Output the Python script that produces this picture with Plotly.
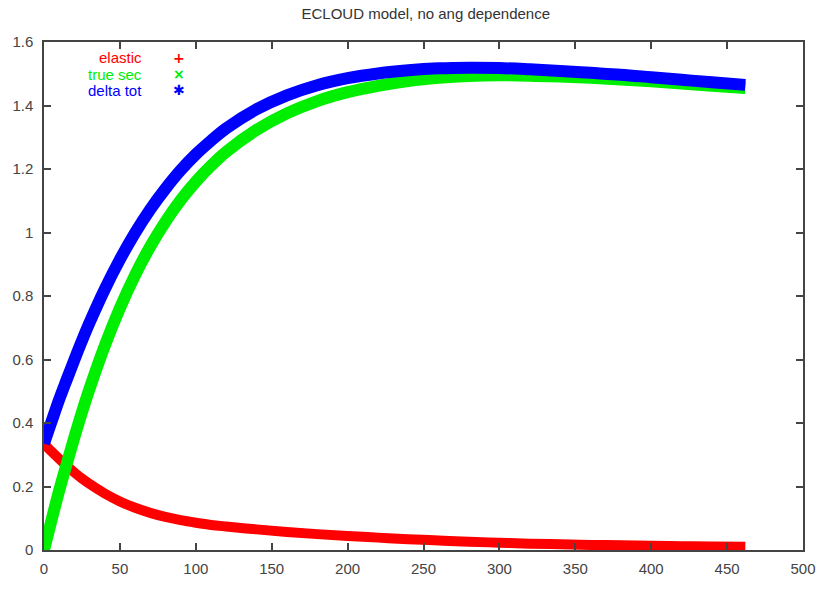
import plotly.graph_objects as go

# Energy values (x) at which the curves were read
energy = [0, 5, 10, 15, 20, 25, 30, 40, 50, 60, 70, 80, 90, 100, 110, 120,
          140, 160, 180, 200, 220, 240, 260, 280, 300, 320, 340, 360, 380,
          400, 420, 440, 462]

elastic = [0.335, 0.31, 0.287, 0.265, 0.244, 0.225, 0.208, 0.178, 0.153, 0.133,
           0.117, 0.104, 0.094, 0.086, 0.079, 0.074, 0.065, 0.057, 0.050, 0.044,
           0.039, 0.034, 0.030, 0.026, 0.023, 0.020, 0.018, 0.016, 0.015, 0.013,
           0.012, 0.011, 0.010]

true_sec = [0.0, 0.095, 0.187, 0.272, 0.355, 0.434, 0.508, 0.643, 0.762, 0.866,
            0.956, 1.034, 1.102, 1.160, 1.210, 1.254, 1.323, 1.375, 1.414, 1.442,
            1.462, 1.477, 1.487, 1.493, 1.495, 1.494, 1.491, 1.487, 1.482,
            1.476, 1.469, 1.462, 1.455]

delta_tot = [0.335, 0.405, 0.474, 0.537, 0.599, 0.659, 0.716, 0.821, 0.915, 0.999,
             1.073, 1.138, 1.196, 1.246, 1.289, 1.328, 1.388, 1.432, 1.464, 1.486,
             1.501, 1.511, 1.517, 1.519, 1.518, 1.514, 1.509, 1.503, 1.497,
             1.489, 1.481, 1.473, 1.465]

x_ticks = [0, 50, 100, 150, 200, 250, 300, 350, 400, 450, 500]
y_ticks = [0, 0.2, 0.4, 0.6, 0.8, 1.0, 1.2, 1.4, 1.6]
y_tick_text = ["0", "0.2", "0.4", "0.6", "0.8", "1", "1.2", "1.4", "1.6"]

series = [
    ("elastic", elastic, "#ff0000", "+", 10),
    ("true sec", true_sec, "#00ee00", "×", 12),
    ("delta tot", delta_tot, "#0000ff", "✱", 12),
]

FONT = "Liberation Sans, Arial, sans-serif"

fig = go.Figure()
for name, vals, color, sym, w in series:
    fig.add_trace(go.Scatter(x=energy, y=vals, mode="lines", name=name,
                             line=dict(color=color, width=w, shape="spline", smoothing=1.0),
                             showlegend=False))

leg_y = [0.969, 0.9365, 0.905]
for (name, vals, color, sym, w), yy in zip(series, leg_y):
    fig.add_annotation(xref="paper", yref="paper", x=0.132, y=yy, text=name,
                       showarrow=False, xanchor="right", yanchor="middle",
                       font=dict(family=FONT, size=15, color=color))
    fig.add_annotation(xref="paper", yref="paper", x=0.178, y=yy, text="<b>" + sym + "</b>",
                       showarrow=False, xanchor="center", yanchor="middle",
                       font=dict(family="DejaVu Sans", size=14, color=color))

axis_common = dict(showgrid=False, zeroline=False, showline=True, linecolor="#444",
                   linewidth=1.5, mirror="allticks", ticks="inside", ticklen=7,
                   tickwidth=1.5, tickcolor="#444",
                   tickfont=dict(family=FONT, size=15, color="#444"))

fig.update_xaxes(range=[0, 500], tickvals=x_ticks, ticklabelstandoff=4, **axis_common)
fig.update_yaxes(range=[0, 1.6], tickvals=y_ticks, ticktext=y_tick_text,
                 ticklabelstandoff=6, **axis_common)

fig.update_layout(
    width=828, height=589,
    margin=dict(l=44, r=20, t=42, b=28),
    paper_bgcolor="white", plot_bgcolor="white",
    title=dict(text="ECLOUD model, no ang dependence", x=0.503, xref="paper",
               y=1 - 14 / 589, yref="container", xanchor="center", yanchor="middle",
               font=dict(family=FONT, size=15, color="#333")),
)

fig.write_html("out.html")
